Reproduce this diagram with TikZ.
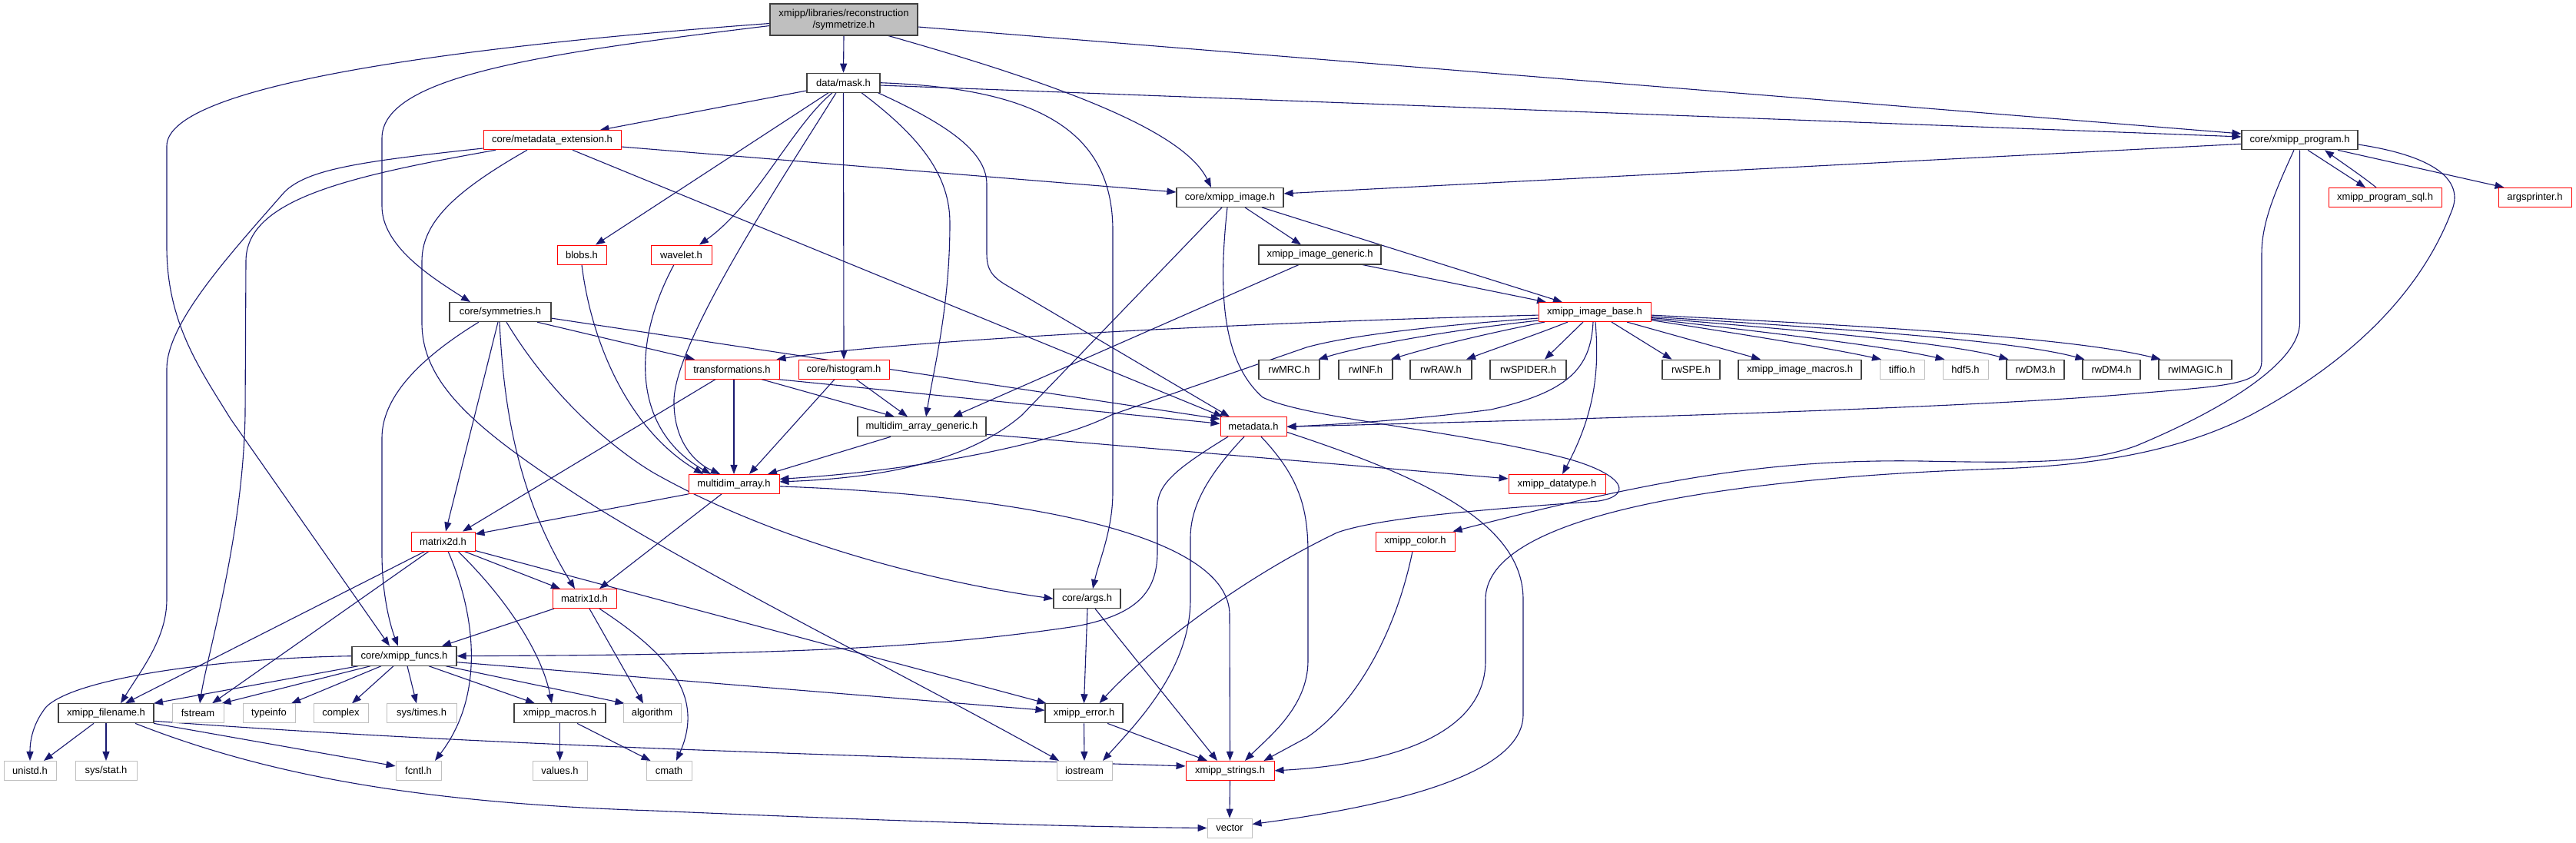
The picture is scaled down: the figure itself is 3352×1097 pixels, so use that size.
\documentclass[tikz,border=0pt]{standalone}
\usepackage{fontspec}
\setmainfont{Liberation Sans}
\usetikzlibrary{arrows.meta}
\definecolor{edgec}{HTML}{191970}
\definecolor{dkb}{HTML}{404040}
\definecolor{grb}{HTML}{BFBFBF}
\definecolor{rdb}{HTML}{FF0000}
\pgfdeclarelayer{bg}
\pgfdeclarelayer{edges}
\pgfsetlayers{bg,edges,main}
\begin{document}
\begin{tikzpicture}[x=1pt,y=-1pt,
  nb/.style={draw=dkb, line width=1.1pt, fill=white, minimum height=25pt, inner sep=0pt, font=\fontsize{13}{15}\selectfont},
  nr/.style={nb, draw=rdb, line width=0.9pt},
  ng/.style={nb, draw=grb, line width=0.9pt},
  e/.style={draw=edgec, line width=1.1pt, -{Triangle[length=12pt,width=9pt]}},
]
\begin{pgfonlayer}{bg}
\fill[white] (0,0) rectangle (3352,1097);
\end{pgfonlayer}
\useasboundingbox (0,0) rectangle (3352,1097);

% nodes
\node[nb, fill=grb, minimum width=192pt, minimum height=41pt, align=center] (S) at (1098,25.5) {xmipp/libraries/reconstruction\\/symmetrize.h};
\node[nb, minimum width=95pt] (M) at (1097.5,107.7) {data/mask.h};
\node[nr, minimum width=179pt] (ME) at (718.5,182.3) {core/metadata\_extension.h};
\node[nb, minimum width=151pt] (P) at (2992.5,182.3) {core/xmipp\_program.h};
\node[nb, minimum width=139pt] (I) at (1600.5,256.9) {core/xmipp\_image.h};
\node[nr, minimum width=147pt] (SQL) at (3103.5,256.9) {xmipp\_program\_sql.h};
\node[nr, minimum width=95pt] (AP) at (3298.5,256.9) {argsprinter.h};
\node[nr, minimum width=64pt] (BL) at (757,331.5) {blobs.h};
\node[nr, minimum width=79pt] (WV) at (886.5,331.5) {wavelet.h};
\node[nb, minimum width=159pt] (IG) at (1717.5,331.5) {xmipp\_image\_generic.h};
\node[nb, minimum width=132pt] (SY) at (651,406.1) {core/symmetries.h};
\node[nr, minimum width=146pt] (B) at (2075,406.1) {xmipp\_image\_base.h};
\node[nr, minimum width=123pt] (T) at (952.5,480.7) {transformations.h};
\node[nr, minimum width=118pt] (H) at (1098,480.7) {core/histogram.h};
\node[nb, minimum width=79pt] (MRC) at (1677.5,480.7) {rwMRC.h};
\node[nb, minimum width=70pt] (INF) at (1777,480.7) {rwINF.h};
\node[nb, minimum width=80pt] (RAW) at (1875,480.7) {rwRAW.h};
\node[nb, minimum width=99pt] (SPI) at (1988.5,480.7) {rwSPIDER.h};
\node[nb, minimum width=75pt] (SPE) at (2200.5,480.7) {rwSPE.h};
\node[nb, minimum width=160pt] (IMAC) at (2342,480.7) {xmipp\_image\_macros.h};
\node[ng, minimum width=58pt] (TIF) at (2475,480.7) {tiffio.h};
\node[ng, minimum width=59pt] (HDF) at (2557.5,480.7) {hdf5.h};
\node[nb, minimum width=75pt] (DM3) at (2648.5,480.7) {rwDM3.h};
\node[nb, minimum width=75pt] (DM4) at (2747.5,480.7) {rwDM4.h};
\node[nb, minimum width=95pt] (IMG) at (2856.5,480.7) {rwIMAGIC.h};
\node[nb, minimum width=167pt] (MAG) at (1199.5,555.3) {multidim\_array\_generic.h};
\node[nr, minimum width=86pt] (MD) at (1631,555.3) {metadata.h};
\node[nr, minimum width=118pt] (MA) at (955,629.9) {multidim\_array.h};
\node[nr, minimum width=126pt] (DT) at (2026,629.9) {xmipp\_datatype.h};
\node[nr, minimum width=83pt] (M2) at (576.5,704.5) {matrix2d.h};
\node[nr, minimum width=103pt] (CO) at (1841.5,704.5) {xmipp\_color.h};
\node[nr, minimum width=83pt] (M1) at (760.5,779.1) {matrix1d.h};
\node[nb, minimum width=87pt] (A) at (1414.5,779.1) {core/args.h};
\node[nb, minimum width=136pt] (F) at (526,853.7) {core/xmipp\_funcs.h};
\node[nb, minimum width=124pt] (FN) at (138,928.3) {xmipp\_filename.h};
\node[ng, minimum width=67pt] (FST) at (257.5,928.3) {fstream};
\node[ng, minimum width=68pt] (TYP) at (350,928.3) {typeinfo};
\node[ng, minimum width=71pt] (CPX) at (443.5,928.3) {complex};
\node[ng, minimum width=91pt] (STM) at (548.5,928.3) {sys/times.h};
\node[nb, minimum width=119pt] (MC) at (728.5,928.3) {xmipp\_macros.h};
\node[ng, minimum width=75pt] (ALG) at (848.5,928.3) {algorithm};
\node[nb, minimum width=101pt] (E) at (1410.5,928.3) {xmipp\_error.h};
\node[ng, minimum width=68pt] (UNI) at (39,1002.9) {unistd.h};
\node[ng, minimum width=80pt] (SST) at (138,1002.9) {sys/stat.h};
\node[ng, minimum width=59pt] (FCN) at (544.5,1002.9) {fcntl.h};
\node[ng, minimum width=71pt] (VAL) at (728.5,1002.9) {values.h};
\node[ng, minimum width=59pt] (CMA) at (870.5,1002.9) {cmath};
\node[ng, minimum width=72pt] (IOS) at (1411,1002.9) {iostream};
\node[nr, minimum width=115pt] (STR) at (1600.5,1002.9) {xmipp\_strings.h};
\node[ng, minimum width=58pt] (VEC) at (1600,1077.5) {vector};

\begin{pgfonlayer}{edges}
% symmetrize.h
\draw[e] (S.south) -- (M.north);
\draw[e] ([xshift=58pt]S.south) .. controls (1380,110) and (1540,170) .. ([xshift=-24.5pt]I.north);
\draw[e] ([yshift=-9.5pt]S.east) -- ([yshift=8.3pt]P.west);
\draw[e] ([yshift=-8pt]S.west) .. controls (700,70) and (497,100) .. (497,180) -- (497,268) .. controls (497,320) and (560,360) .. ([xshift=-39pt]SY.north);
\draw[e] ([yshift=-5pt]S.west) .. controls (600,60) and (217,110) .. (217,190) -- (217,321) .. controls (217,420) and (260,480) .. (300,545) -- ([xshift=-19pt]F.north);
% data/mask.h
\draw[e] ([yshift=-10.3pt]M.west) -- ([xshift=62pt]ME.north);
\draw[e] ([xshift=-19.5pt]M.south) -- ([xshift=18pt]BL.north);
\draw[e] ([xshift=-14.5pt]M.south) .. controls (1030,165) and (985,265) .. ([xshift=23.5pt]WV.north);
\draw[e] ([xshift=-9.5pt]M.south) .. controls (1020,230) and (880,440) .. (877,520) .. controls (876,580) and (910,605) .. ([xshift=-18pt]MA.north);
\draw[e] (M.south) -- (H.north);
\draw[e] ([xshift=23.5pt]M.south) .. controls (1200,180) and (1236,230) .. (1236,290) .. controls (1236,400) and (1215,480) .. ([xshift=5.5pt]MAG.north);
\draw[e] ([xshift=45pt]M.south) .. controls (1240,165) and (1284,200) .. (1284,240) -- (1284,330) .. controls (1284,350) and (1290,360) .. (1311,372) -- ([xshift=-31pt]MD.north);
\draw[e] (M.east) .. controls (1350,115) and (1448,170) .. (1448,300) -- (1448,640) .. controls (1448,690) and (1430,730) .. ([xshift=7.5pt]A.north);
\draw[e] ([yshift=-3.3pt]M.east) -- ([yshift=4.3pt]P.west);
% core/metadata_extension.h
\draw[e] ([yshift=-10.7pt]ME.west) .. controls (470,210) and (400,220) .. (370,250) .. controls (300,330) and (217,420) .. (217,480) -- (217,780) .. controls (217,830) and (185,870) .. ([xshift=19pt]FN.north);
\draw[e] ([xshift=-73.5pt]ME.south) .. controls (450,230) and (320,260) .. (320,340) -- (319,540) .. controls (316,700) and (270,850) .. ([xshift=2.5pt]FST.north);
\draw[e] ([xshift=-32.5pt]ME.south) .. controls (590,250) and (549,290) .. (549,340) -- (549,420) .. controls (549,500) and (620,560) .. (760,650) .. controls (900,740) and (1200,890) .. ([xshift=-33pt]IOS.north);
\draw[e] ([yshift=-8.7pt]ME.east) -- ([yshift=6.9pt]I.west);
\draw[e] ([xshift=26.5pt]ME.south) -- ([xshift=-40pt]MD.north);
% core/xmipp_program.h
\draw[e] ([yshift=-5pt]P.west) -- ([yshift=5pt]I.east);
\draw[e] ([xshift=10.5pt]P.south) -- ([xshift=-25.5pt]SQL.north);
\draw[e] ([xshift=-11.5pt]SQL.north) .. controls (3072,228) and (3048,212) .. ([xshift=32.5pt]P.south);
\draw[e] ([xshift=49.5pt]P.south) -- ([xshift=-40pt]AP.north);
\draw[e] ([xshift=-7.5pt]P.south) .. controls (2960,250) and (2943,290) .. (2943,330) -- (2943,470) .. controls (2943,500) and (2900,502) .. (2780,512) .. controls (2600,528) and (2200,542) .. (MD.east);
\draw[e] (P.south) -- (2992.5,420) .. controls (2992.5,470) and (2900,530) .. (2780,580) .. controls (2720,602) and (2650,603) .. (2500,600) .. controls (2300,597) and (2150,625) .. ([xshift=49pt]CO.north);
\draw[e] ([yshift=-5.7pt]P.east) .. controls (3180,205) and (3205,240) .. (3190,275) .. controls (3150,380) and (3060,470) .. (2929,540) .. controls (2850,580) and (2750,605) .. (2600,610) .. controls (2300,620) and (1933,660) .. (1933,780) -- (1933,860) .. controls (1933,960) and (1800,995) .. (STR.east);
% metadata.h
\draw[e] ([xshift=-33pt]MD.south) .. controls (1530,610) and (1506,630) .. (1506,660) -- (1506,718) .. controls (1506,770) and (1480,800) .. (1400,815) .. controls (1200,845) and (1000,852) .. (F.east);
\draw[e] ([xshift=-12pt]MD.south) .. controls (1570,620) and (1549,660) .. (1549,700) -- (1549,780) .. controls (1549,870) and (1480,940) .. ([xshift=24pt]IOS.north);
\draw[e] ([xshift=10pt]MD.south) .. controls (1690,620) and (1702,660) .. (1702,720) -- (1702,860) .. controls (1702,920) and (1650,960) .. ([xshift=19.5pt]STR.north);
\draw[e] ([yshift=-7pt]MD.east) .. controls (1850,620) and (1982,680) .. (1982,780) -- (1982,930) .. controls (1982,1010) and (1800,1050) .. ([yshift=5pt]VEC.east);
% xmipp_image_base.h
\draw[e] ([yshift=-4pt]B.west) .. controls (1600,420) and (1150,445) .. ([xshift=58pt]T.north);
\draw[e] ([yshift=-8pt]B.west) .. controls (1850,425) and (1750,438) .. (1700,452) -- (1446,540) .. controls (1380,575) and (1200,612) .. ([yshift=6.5pt]MA.east);
\draw[e] ([yshift=-11pt]B.west) .. controls (1900,428) and (1780,448) .. ([xshift=38pt]MRC.north);
\draw[e] ([xshift=-65pt]B.south) .. controls (1930,435) and (1860,452) .. ([xshift=33pt]INF.north);
\draw[e] ([xshift=-35pt]B.south) .. controls (2000,435) and (1950,452) .. ([xshift=33pt]RAW.north);
\draw[e] ([xshift=-15pt]B.south) -- ([xshift=21.5pt]SPI.north);
\draw[e] ([xshift=1pt]B.south) .. controls (2080,470) and (2080,530) .. ([xshift=7pt]DT.north);
\draw[e] ([xshift=-2pt]B.south) .. controls (2070,480) and (2040,510) .. (1940,533) .. controls (1850,545) and (1750,552) .. (MD.east);
\draw[e] ([xshift=22pt]B.south) -- ([xshift=-25pt]SPE.north);
\draw[e] ([xshift=42pt]B.south) -- ([xshift=-51pt]IMAC.north);
\draw[e] ([yshift=-10.5pt]B.east) .. controls (2300,440) and (2390,455) .. ([xshift=-27pt]TIF.north);
\draw[e] ([yshift=-9pt]B.east) .. controls (2340,437) and (2460,452) .. ([xshift=-27pt]HDF.north);
\draw[e] ([yshift=-7.5pt]B.east) .. controls (2370,432) and (2540,447) .. ([xshift=-35pt]DM3.north);
\draw[e] ([yshift=-6pt]B.east) .. controls (2400,428) and (2620,443) .. ([xshift=-35pt]DM4.north);
\draw[e] ([yshift=-4pt]B.east) .. controls (2450,425) and (2700,440) .. ([xshift=-45pt]IMG.north);
% core/xmipp_image.h
\draw[e] ([xshift=-10.5pt]I.south) -- (1330,540) .. controls (1260,600) and (1150,622) .. ([yshift=3pt]MA.east);
\draw[e] ([xshift=-3.5pt]I.south) .. controls (1585,380) and (1590,470) .. (1643,517) .. controls (1700,545) and (1900,560) .. (2040,597) .. controls (2115,618) and (2125,645) .. (2080,652) .. controls (1950,662) and (1800,672) .. (1740,693) .. controls (1600,760) and (1480,860) .. ([xshift=20pt]E.north);
\draw[e] ([xshift=19.5pt]I.south) -- ([xshift=-24.5pt]IG.north);
\draw[e] ([xshift=41.5pt]I.south) -- ([xshift=-42pt]B.north);
% xmipp_image_generic.h
\draw[e] ([xshift=-27.5pt]IG.south) -- ([xshift=40.5pt]MAG.north);
\draw[e] ([xshift=55.5pt]IG.south) -- ([xshift=-63pt]B.north);
% multidim_array_generic.h
\draw[e] ([xshift=-40.5pt]MAG.south) -- ([xshift=44pt]MA.north);
\draw[e] ([yshift=-10pt]MAG.east) -- ([yshift=7pt]DT.west);
% transformations.h
\draw[e] ([xshift=2.5pt]T.south) -- (MA.north);
\draw[e] ([xshift=38.5pt]T.south) -- ([xshift=-35.5pt]MAG.north);
\draw[e] ([xshift=60pt]T.south) -- ([yshift=4pt]MD.west);
\draw[e] ([xshift=-21.5pt]T.south) -- ([xshift=25.5pt]M2.north);
% core/histogram.h
\draw[e] ([xshift=-12pt]H.south) -- ([xshift=20pt]MA.north);
\draw[e] ([xshift=16pt]H.south) -- ([xshift=-18.5pt]MAG.north);
% core/symmetries.h
\draw[e] ([xshift=-28pt]SY.south) .. controls (540,470) and (497,520) .. (497,570) -- (497,720) .. controls (497,780) and (510,820) .. ([xshift=-8pt]F.north);
\draw[e] ([xshift=-3pt]SY.south) -- ([xshift=3.5pt]M2.north);
\draw[e] ([xshift=-1pt]SY.south) .. controls (655,520) and (670,640) .. ([xshift=-12.5pt]M1.north);
\draw[e] ([xshift=8pt]SY.south) .. controls (720,520) and (800,585) .. (850,615) .. controls (1000,700) and (1200,755) .. (A.west);
\draw[e] ([xshift=48pt]SY.south) -- ([xshift=-48.5pt]T.north);
\draw[e] ([yshift=-8pt]SY.east) -- ([yshift=10pt]MD.west);
% blobs.h, wavelet.h
\draw[e] (BL.south) .. controls (770,450) and (820,560) .. ([xshift=-40pt]MA.north);
\draw[e] ([xshift=-9.5pt]WV.south) .. controls (820,450) and (825,560) .. ([xshift=-30pt]MA.north);
% multidim_array.h
\draw[e] ([xshift=-59pt]MA.south) -- ([yshift=9.5pt]M2.east);
\draw[e] ([xshift=-16pt]MA.south) -- ([xshift=19.5pt]M1.north);
\draw[e] ([yshift=-3pt]MA.east) .. controls (1350,645) and (1600,700) .. (1600,800) -- (STR.north);
% matrix2d.h
\draw[e] ([xshift=-23.5pt]M2.south) -- ([xshift=25pt]FN.north);
\draw[e] ([xshift=-18.5pt]M2.south) -- ([xshift=18.5pt]FST.north);
\draw[e] ([xshift=6.5pt]M2.south) .. controls (615,790) and (635,900) .. ([xshift=21.5pt]FCN.north);
\draw[e] ([xshift=19.5pt]M2.south) .. controls (660,780) and (705,850) .. ([xshift=-10.5pt]MC.north);
\draw[e] ([xshift=27.5pt]M2.south) -- ([xshift=-31.5pt]M1.north);
\draw[e] ([yshift=-12pt]M2.east) -- ([xshift=-49pt]E.north);
% matrix1d.h
\draw[e] ([xshift=-39.5pt]M1.south) -- ([xshift=49pt]F.north);
\draw[e] ([xshift=6.5pt]M1.south) -- ([xshift=-11.5pt]ALG.north);
\draw[e] ([xshift=19.5pt]M1.south) .. controls (860,845) and (920,900) .. ([xshift=9.5pt]CMA.north);
% core/args.h
\draw[e] ([xshift=0.5pt]A.south) -- (E.north);
\draw[e] ([xshift=10.5pt]A.south) -- ([xshift=-16.5pt]STR.north);
% core/xmipp_funcs.h
\draw[e] (F.west) .. controls (300,856) and (100,880) .. (60,920) .. controls (40,945) and (39,970) .. (UNI.north);
\draw[e] ([xshift=-60pt]F.south) -- ([xshift=62pt]FN.north);
\draw[e] ([xshift=-44pt]F.south) -- ([xshift=31pt]FST.north);
\draw[e] ([xshift=-30pt]F.south) -- ([xshift=29pt]TYP.north);
\draw[e] ([xshift=-14pt]F.south) -- ([xshift=14.5pt]CPX.north);
\draw[e] ([xshift=4pt]F.south) -- ([xshift=-6.5pt]STM.north);
\draw[e] ([xshift=32pt]F.south) -- ([xshift=-32.5pt]MC.north);
\draw[e] ([xshift=54pt]F.south) -- ([xshift=-36pt]ALG.north);
\draw[e] ([yshift=-8pt]F.east) -- ([yshift=4pt]E.west);
% xmipp_filename.h
\draw[e] ([xshift=-16pt]FN.south) -- ([xshift=18pt]UNI.north);
\draw[e] (FN.south) -- (SST.north);
\draw[e] ([xshift=62pt]FN.south) -- ([yshift=6pt]FCN.west);
\draw[e] ([yshift=-10pt]FN.east) .. controls (600,968) and (1000,980) .. ([yshift=6pt]STR.west);
\draw[e] ([xshift=38pt]FN.south) .. controls (350,1010) and (550,1045) .. (850,1055) .. controls (1200,1070) and (1400,1076) .. (VEC.west);
% xmipp_macros.h
\draw[e] (MC.south) -- (VAL.north);
\draw[e] ([xshift=22.5pt]MC.south) -- ([xshift=-24pt]CMA.north);
% xmipp_error.h
\draw[e] (E.south) -- (IOS.north);
\draw[e] ([xshift=30.5pt]E.south) -- ([xshift=-29.5pt]STR.north);
% xmipp_color.h
\draw[e] ([xshift=-3.5pt]CO.south) .. controls (1815,830) and (1760,920) .. (1700,960) -- ([xshift=44pt]STR.north);
% xmipp_strings.h
\draw[e] (STR.south) -- (VEC.north);
\end{pgfonlayer}
\end{tikzpicture}
\end{document}
